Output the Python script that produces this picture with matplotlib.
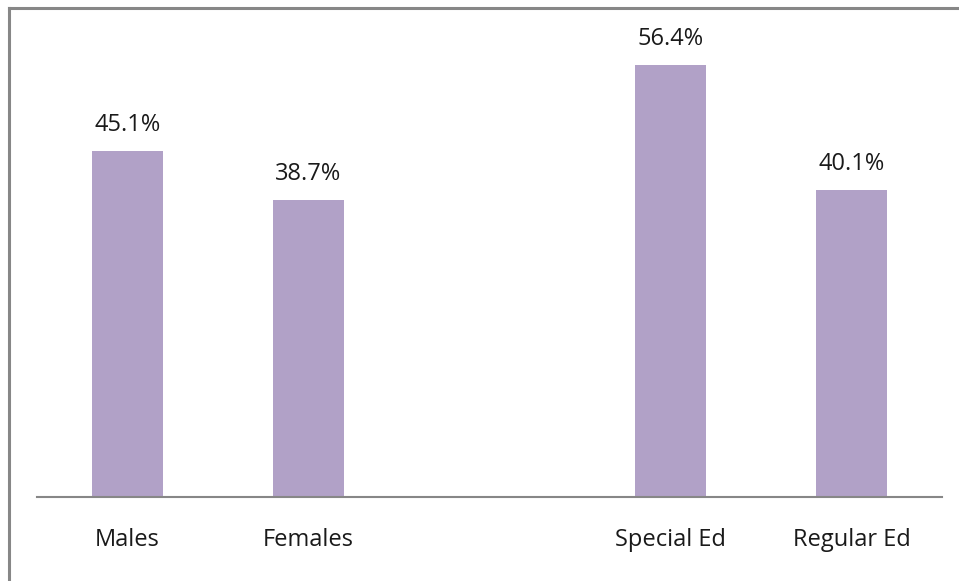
import matplotlib.pyplot as plt
from matplotlib.lines import Line2D

# percentage per group; the empty slot separates gender from program type
categories = ['Males', 'Females', '', 'Special Ed', 'Regular Ed']
values = [45.1, 38.7, None, 56.4, 40.1]

bar_color = '#b1a1c7'
edge_gray = '#878787'

plt.rcParams['font.family'] = ['Open Sans', 'DejaVu Sans']

fig = plt.figure(figsize=(9.59, 5.81), dpi=100)
W, H = 959, 581
ax = fig.add_axes([37 / W, (H - 497) / H, (942 - 37) / W, (497 - 37) / H])

for i, (cat, v) in enumerate(zip(categories, values)):
    if v is None:
        continue
    ax.bar(i, v, width=0.39, color=bar_color, zorder=2)
    ax.annotate(f'{v:.1f}%', (i, v), xytext=(0, 26), textcoords='offset pixels',
                ha='center', va='center', fontsize=17, color='#1a1a1a')
    ax.annotate(cat, (i, 0), xytext=(0, -43), textcoords='offset pixels',
                ha='center', va='center', fontsize=17, color='#1a1a1a')

ax.set_xlim(-0.5, len(categories) - 0.5)
ax.set_ylim(0, 60)
ax.set_xticks([])
ax.set_yticks([])
for side in ['top', 'right', 'left']:
    ax.spines[side].set_visible(False)
ax.spines['bottom'].set_color(edge_gray)
ax.spines['bottom'].set_linewidth(1.5)

# outer frame, only top and left edges show
fig.add_artist(Line2D([9 / W, 1], [1 - 8 / H, 1 - 8 / H], color=edge_gray, lw=2.2))
fig.add_artist(Line2D([9 / W, 9 / W], [0, 1 - 8 / H], color=edge_gray, lw=2.2))

fig.savefig('out.png', dpi=100)
